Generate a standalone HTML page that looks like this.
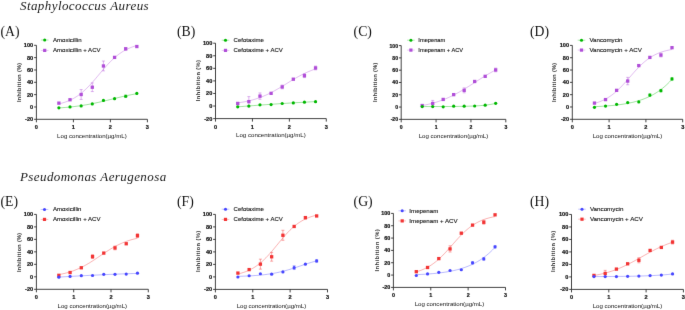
<!DOCTYPE html>
<html><head><meta charset="utf-8"><style>
html,body{margin:0;padding:0;background:#fff;width:685px;height:310px;overflow:hidden}
svg{display:block;}
text{font-family:"Liberation Sans",sans-serif;fill:#111;stroke:none}
.tt{font-family:"Liberation Serif",serif;font-style:italic;font-size:13px;letter-spacing:0.42px;fill:#1a1a1a;stroke:none}
.pl{font-family:"Liberation Serif",serif;font-size:13.7px;fill:#111;stroke:none}
.tk{font-weight:bold;stroke:#111;stroke-width:0.2px}
.yl{font-weight:bold;fill:#333}
.xl{font-size:6.1px}
.lg{stroke:#111;stroke-width:0.12px}
.ax{stroke:#222;stroke-width:0.85;fill:none}
</style></head><body>
<svg width="685" height="310" viewBox="0 0 685 310">
<defs><filter id="sf" x="0" y="0" width="685" height="310" filterUnits="userSpaceOnUse" color-interpolation-filters="sRGB"><feConvolveMatrix order="3" kernelMatrix="0 1 0 1 12 1 0 1 0" divisor="16" edgeMode="duplicate"/></filter></defs>
<g filter="url(#sf)">
<rect width="685" height="310" fill="#fff"/>
<text x="20.0" y="10.2" class="tt">Staphylococcus Aureus</text>
<text x="20.0" y="180.8" class="tt">Pseudomonas Aerugenosa</text>
<text x="0.5" y="35.7" class="pl">(A)</text>
<path d="M36.4 45.3V119.3H147.4" class="ax"/>
<path d="M34.1 119.3H36.4" class="ax"/>
<text x="33.2" y="121.2" class="tk" style="font-size:5.6px" text-anchor="end">-20</text>
<path d="M34.1 106.97H36.4" class="ax"/>
<text x="33.2" y="108.87" class="tk" style="font-size:5.6px" text-anchor="end">0</text>
<path d="M34.1 94.63H36.4" class="ax"/>
<text x="33.2" y="96.53" class="tk" style="font-size:5.6px" text-anchor="end">20</text>
<path d="M34.1 82.3H36.4" class="ax"/>
<text x="33.2" y="84.2" class="tk" style="font-size:5.6px" text-anchor="end">40</text>
<path d="M34.1 69.97H36.4" class="ax"/>
<text x="33.2" y="71.87" class="tk" style="font-size:5.6px" text-anchor="end">60</text>
<path d="M34.1 57.63H36.4" class="ax"/>
<text x="33.2" y="59.53" class="tk" style="font-size:5.6px" text-anchor="end">80</text>
<path d="M34.1 45.3H36.4" class="ax"/>
<text x="33.2" y="47.2" class="tk" style="font-size:5.6px" text-anchor="end">100</text>
<path d="M36.4 119.3V122.3" class="ax"/>
<text x="36.4" y="129.3" class="tk" style="font-size:5.6px" text-anchor="middle">0</text>
<path d="M73.4 119.3V122.3" class="ax"/>
<text x="73.4" y="129.3" class="tk" style="font-size:5.6px" text-anchor="middle">1</text>
<path d="M110.4 119.3V122.3" class="ax"/>
<text x="110.4" y="129.3" class="tk" style="font-size:5.6px" text-anchor="middle">2</text>
<path d="M147.4 119.3V122.3" class="ax"/>
<text x="147.4" y="129.3" class="tk" style="font-size:5.6px" text-anchor="middle">3</text>
<text transform="translate(20.67 82.3) rotate(-90)" class="yl" style="font-size:5.46px;letter-spacing:0.36px" text-anchor="middle">Inhibition (%)</text>
<text x="91.9" y="137.6" class="xl" text-anchor="middle">Log concentration(µg/mL)</text>
<path d="M40.9 40H48.5" stroke="#00b800" stroke-width="0.5" opacity="0.6"/>
<circle cx="44.7" cy="40" r="1.55" fill="#00b800"/>
<text x="53" y="41.75" class="lg" style="font-size:6.05px">Amoxicillin</text>
<path d="M40.9 50.4H48.5" stroke="#b04ed8" stroke-width="0.5" opacity="0.6"/>
<rect x="43.1" y="48.8" width="3.2" height="3.2" fill="#b04ed8"/>
<text x="53" y="52.15" class="lg" style="font-size:6.05px">Amoxicillin + ACV</text>
<polyline points="58.88,103.89 60.2,103.57 61.52,103.23 62.84,102.85 64.16,102.44 65.48,102 66.81,101.52 68.13,101 69.45,100.44 70.77,99.83 72.09,99.17 73.41,98.47 74.73,97.72 76.06,96.91 77.38,96.04 78.7,95.12 80.02,94.14 81.34,93.11 82.66,92.01 83.98,90.86 85.31,89.65 86.63,88.39 87.95,87.07 89.27,85.7 90.59,84.29 91.91,82.83 93.23,81.34 94.56,79.82 95.88,78.27 97.2,76.71 98.52,75.13 99.84,73.56 101.16,71.98 102.48,70.42 103.81,68.87 105.13,67.36 106.45,65.87 107.77,64.41 109.09,63 110.41,61.64 111.74,60.33 113.06,59.07 114.38,57.86 115.7,56.71 117.02,55.62 118.34,54.59 119.66,53.62 120.99,52.7 122.31,51.84 123.63,51.04 124.95,50.29 126.27,49.59 127.59,48.94 128.91,48.33 130.24,47.77 131.56,47.26 132.88,46.78 134.2,46.34 135.52,45.93 136.84,45.56" fill="none" stroke="#b04ed8" stroke-width="0.55" opacity="0.7"/>
<rect x="57.23" y="101.49" width="3.3" height="3.3" fill="#b04ed8"/>
<rect x="68.36" y="98.1" width="3.3" height="3.3" fill="#b04ed8"/>
<path d="M81.15 89.58V99.44M79.65 89.58H82.65M79.65 99.44H82.65" stroke="#b04ed8" stroke-width="0.55" opacity="0.8"/>
<rect x="79.5" y="92.86" width="3.3" height="3.3" fill="#b04ed8"/>
<path d="M92.29 82.92V91.55M90.79 82.92H93.79M90.79 91.55H93.79" stroke="#b04ed8" stroke-width="0.55" opacity="0.8"/>
<rect x="90.64" y="85.58" width="3.3" height="3.3" fill="#b04ed8"/>
<path d="M103.43 61.02V70.89M101.93 61.02H104.93M101.93 70.89H104.93" stroke="#b04ed8" stroke-width="0.55" opacity="0.8"/>
<rect x="101.78" y="64.31" width="3.3" height="3.3" fill="#b04ed8"/>
<rect x="112.92" y="55.74" width="3.3" height="3.3" fill="#b04ed8"/>
<path d="M125.7 47.58V50.05M124.2 47.58H127.2M124.2 50.05H127.2" stroke="#b04ed8" stroke-width="0.55" opacity="0.8"/>
<rect x="124.05" y="47.16" width="3.3" height="3.3" fill="#b04ed8"/>
<rect x="135.19" y="44.88" width="3.3" height="3.3" fill="#b04ed8"/>
<polyline points="58.88,107.96 60.2,107.87 61.52,107.77 62.84,107.67 64.16,107.56 65.48,107.45 66.81,107.33 68.13,107.21 69.45,107.08 70.77,106.94 72.09,106.79 73.41,106.64 74.73,106.48 76.06,106.32 77.38,106.15 78.7,105.97 80.02,105.78 81.34,105.58 82.66,105.38 83.98,105.17 85.31,104.95 86.63,104.72 87.95,104.48 89.27,104.24 90.59,103.99 91.91,103.73 93.23,103.47 94.56,103.19 95.88,102.91 97.2,102.63 98.52,102.34 99.84,102.04 101.16,101.74 102.48,101.43 103.81,101.12 105.13,100.8 106.45,100.48 107.77,100.16 109.09,99.84 110.41,99.51 111.74,99.19 113.06,98.86 114.38,98.54 115.7,98.22 117.02,97.9 118.34,97.58 119.66,97.26 120.99,96.95 122.31,96.64 123.63,96.34 124.95,96.04 126.27,95.75 127.59,95.47 128.91,95.19 130.24,94.92 131.56,94.65 132.88,94.4 134.2,94.15 135.52,93.91 136.84,93.67" fill="none" stroke="#00b800" stroke-width="0.55" opacity="0.7"/>
<circle cx="58.88" cy="107.83" r="1.6" fill="#00b800"/>
<circle cx="70.01" cy="106.97" r="1.6" fill="#00b800"/>
<circle cx="81.15" cy="105.92" r="1.6" fill="#00b800"/>
<circle cx="92.29" cy="103.94" r="1.6" fill="#00b800"/>
<circle cx="103.43" cy="100.43" r="1.6" fill="#00b800"/>
<circle cx="114.57" cy="98.7" r="1.6" fill="#00b800"/>
<path d="M125.7 95V97.47M124.2 95H127.2M124.2 97.47H127.2" stroke="#00b800" stroke-width="0.55" opacity="0.8"/>
<circle cx="125.7" cy="96.24" r="1.6" fill="#00b800"/>
<circle cx="136.84" cy="93.46" r="1.6" fill="#00b800"/>
<text x="177" y="35.7" class="pl">(B)</text>
<path d="M215.5 43.2V118.6H326.29" class="ax"/>
<path d="M213.2 118.6H215.5" class="ax"/>
<text x="212.3" y="120.5" class="tk" style="font-size:5.6px" text-anchor="end">-20</text>
<path d="M213.2 106.03H215.5" class="ax"/>
<text x="212.3" y="107.93" class="tk" style="font-size:5.6px" text-anchor="end">0</text>
<path d="M213.2 93.47H215.5" class="ax"/>
<text x="212.3" y="95.37" class="tk" style="font-size:5.6px" text-anchor="end">20</text>
<path d="M213.2 80.9H215.5" class="ax"/>
<text x="212.3" y="82.8" class="tk" style="font-size:5.6px" text-anchor="end">40</text>
<path d="M213.2 68.33H215.5" class="ax"/>
<text x="212.3" y="70.23" class="tk" style="font-size:5.6px" text-anchor="end">60</text>
<path d="M213.2 55.77H215.5" class="ax"/>
<text x="212.3" y="57.67" class="tk" style="font-size:5.6px" text-anchor="end">80</text>
<path d="M213.2 43.2H215.5" class="ax"/>
<text x="212.3" y="45.1" class="tk" style="font-size:5.6px" text-anchor="end">100</text>
<path d="M215.5 118.6V121.6" class="ax"/>
<text x="215.5" y="128.6" class="tk" style="font-size:5.6px" text-anchor="middle">0</text>
<path d="M252.43 118.6V121.6" class="ax"/>
<text x="252.43" y="128.6" class="tk" style="font-size:5.6px" text-anchor="middle">1</text>
<path d="M289.36 118.6V121.6" class="ax"/>
<text x="289.36" y="128.6" class="tk" style="font-size:5.6px" text-anchor="middle">2</text>
<path d="M326.29 118.6V121.6" class="ax"/>
<text x="326.29" y="128.6" class="tk" style="font-size:5.6px" text-anchor="middle">3</text>
<text transform="translate(199.56 80.4) rotate(-90)" class="yl" style="font-size:5.72px;letter-spacing:0.38px" text-anchor="middle">Inhibition (%)</text>
<text x="270.89" y="136.9" class="xl" text-anchor="middle">Log concentration(µg/mL)</text>
<path d="M221.7 40.2H229.3" stroke="#00b800" stroke-width="0.5" opacity="0.6"/>
<circle cx="225.5" cy="40.2" r="1.55" fill="#00b800"/>
<text x="233.6" y="41.94" class="lg" style="font-size:6.0px">Cefotaxime</text>
<path d="M221.7 50.4H229.3" stroke="#b04ed8" stroke-width="0.5" opacity="0.6"/>
<rect x="223.9" y="48.8" width="3.2" height="3.2" fill="#b04ed8"/>
<text x="233.6" y="52.14" class="lg" style="font-size:6.0px">Cefotaxime + ACV</text>
<polyline points="237.73,102.88 239.05,102.7 240.37,102.49 241.69,102.28 243.01,102.05 244.33,101.81 245.65,101.55 246.97,101.28 248.29,100.98 249.6,100.67 250.92,100.34 252.24,100 253.56,99.63 254.88,99.24 256.2,98.83 257.52,98.4 258.84,97.94 260.16,97.47 261.48,96.97 262.79,96.44 264.11,95.9 265.43,95.33 266.75,94.73 268.07,94.12 269.39,93.48 270.71,92.82 272.03,92.13 273.35,91.43 274.67,90.71 275.98,89.97 277.3,89.22 278.62,88.45 279.94,87.67 281.26,86.88 282.58,86.08 283.9,85.27 285.22,84.46 286.54,83.65 287.85,82.83 289.17,82.02 290.49,81.22 291.81,80.42 293.13,79.63 294.45,78.85 295.77,78.08 297.09,77.33 298.41,76.6 299.73,75.88 301.04,75.18 302.36,74.51 303.68,73.85 305,73.22 306.32,72.6 307.64,72.01 308.96,71.45 310.28,70.91 311.6,70.39 312.92,69.89 314.23,69.42 315.55,68.97" fill="none" stroke="#b04ed8" stroke-width="0.55" opacity="0.7"/>
<path d="M237.73 102.26V104.78M236.23 102.26H239.23M236.23 104.78H239.23" stroke="#b04ed8" stroke-width="0.55" opacity="0.8"/>
<rect x="236.08" y="101.87" width="3.3" height="3.3" fill="#b04ed8"/>
<path d="M248.85 96.61V106.66M247.35 96.61H250.35M247.35 106.66H250.35" stroke="#b04ed8" stroke-width="0.55" opacity="0.8"/>
<rect x="247.2" y="99.98" width="3.3" height="3.3" fill="#b04ed8"/>
<path d="M259.97 92.96V99.25M258.47 92.96H261.47M258.47 99.25H261.47" stroke="#b04ed8" stroke-width="0.55" opacity="0.8"/>
<rect x="258.32" y="94.46" width="3.3" height="3.3" fill="#b04ed8"/>
<rect x="269.44" y="91.69" width="3.3" height="3.3" fill="#b04ed8"/>
<path d="M282.2 85.05V88.82M280.7 85.05H283.7M280.7 88.82H283.7" stroke="#b04ed8" stroke-width="0.55" opacity="0.8"/>
<rect x="280.55" y="85.28" width="3.3" height="3.3" fill="#b04ed8"/>
<rect x="291.67" y="77.55" width="3.3" height="3.3" fill="#b04ed8"/>
<path d="M304.44 73.8V77.57M302.94 73.8H305.94M302.94 77.57H305.94" stroke="#b04ed8" stroke-width="0.55" opacity="0.8"/>
<rect x="302.79" y="74.03" width="3.3" height="3.3" fill="#b04ed8"/>
<path d="M315.55 66.07V69.84M314.05 66.07H317.05M314.05 69.84H317.05" stroke="#b04ed8" stroke-width="0.55" opacity="0.8"/>
<rect x="313.9" y="66.31" width="3.3" height="3.3" fill="#b04ed8"/>
<polyline points="237.73,106.83 239.05,106.73 240.37,106.62 241.69,106.52 243.01,106.41 244.33,106.31 245.65,106.21 246.97,106.1 248.29,106 249.6,105.9 250.92,105.8 252.24,105.7 253.56,105.6 254.88,105.49 256.2,105.4 257.52,105.3 258.84,105.2 260.16,105.1 261.48,105 262.79,104.9 264.11,104.81 265.43,104.71 266.75,104.62 268.07,104.52 269.39,104.43 270.71,104.33 272.03,104.24 273.35,104.15 274.67,104.06 275.98,103.97 277.3,103.88 278.62,103.79 279.94,103.7 281.26,103.61 282.58,103.53 283.9,103.44 285.22,103.36 286.54,103.27 287.85,103.19 289.17,103.1 290.49,103.02 291.81,102.94 293.13,102.86 294.45,102.78 295.77,102.7 297.09,102.62 298.41,102.55 299.73,102.47 301.04,102.39 302.36,102.32 303.68,102.25 305,102.17 306.32,102.1 307.64,102.03 308.96,101.96 310.28,101.89 311.6,101.82 312.92,101.75 314.23,101.68 315.55,101.62" fill="none" stroke="#00b800" stroke-width="0.55" opacity="0.7"/>
<circle cx="237.73" cy="106.85" r="1.6" fill="#00b800"/>
<circle cx="248.85" cy="106.03" r="1.6" fill="#00b800"/>
<circle cx="259.97" cy="104.84" r="1.6" fill="#00b800"/>
<circle cx="271.09" cy="104.53" r="1.6" fill="#00b800"/>
<circle cx="282.2" cy="103.52" r="1.6" fill="#00b800"/>
<circle cx="293.32" cy="102.89" r="1.6" fill="#00b800"/>
<circle cx="304.44" cy="102.14" r="1.6" fill="#00b800"/>
<circle cx="315.55" cy="101.63" r="1.6" fill="#00b800"/>
<text x="353.6" y="35.7" class="pl">(C)</text>
<path d="M401.2 45.6V119.35H505.81" class="ax"/>
<path d="M398.9 119.35H401.2" class="ax"/>
<text x="398" y="121.25" class="tk" style="font-size:5.1px" text-anchor="end">-20</text>
<path d="M398.9 107.06H401.2" class="ax"/>
<text x="398" y="108.96" class="tk" style="font-size:5.1px" text-anchor="end">0</text>
<path d="M398.9 94.77H401.2" class="ax"/>
<text x="398" y="96.67" class="tk" style="font-size:5.1px" text-anchor="end">20</text>
<path d="M398.9 82.47H401.2" class="ax"/>
<text x="398" y="84.38" class="tk" style="font-size:5.1px" text-anchor="end">40</text>
<path d="M398.9 70.18H401.2" class="ax"/>
<text x="398" y="72.08" class="tk" style="font-size:5.1px" text-anchor="end">60</text>
<path d="M398.9 57.89H401.2" class="ax"/>
<text x="398" y="59.79" class="tk" style="font-size:5.1px" text-anchor="end">80</text>
<path d="M398.9 45.6H401.2" class="ax"/>
<text x="398" y="47.5" class="tk" style="font-size:5.1px" text-anchor="end">100</text>
<path d="M401.2 119.35V122.35" class="ax"/>
<text x="401.2" y="129.35" class="tk" style="font-size:5.1px" text-anchor="middle">0</text>
<path d="M436.07 119.35V122.35" class="ax"/>
<text x="436.07" y="129.35" class="tk" style="font-size:5.1px" text-anchor="middle">1</text>
<path d="M470.94 119.35V122.35" class="ax"/>
<text x="470.94" y="129.35" class="tk" style="font-size:5.1px" text-anchor="middle">2</text>
<path d="M505.81 119.35V122.35" class="ax"/>
<text x="505.81" y="129.35" class="tk" style="font-size:5.1px" text-anchor="middle">3</text>
<text transform="translate(377.37 82.1) rotate(-90)" class="yl" style="font-size:5.46px;letter-spacing:0.36px" text-anchor="middle">Inhibition (%)</text>
<text x="453.5" y="137.65" class="xl" text-anchor="middle">Log concentration(µg/mL)</text>
<path d="M407.1 40.2H414.7" stroke="#00b800" stroke-width="0.5" opacity="0.6"/>
<circle cx="410.9" cy="40.2" r="1.55" fill="#00b800"/>
<text x="418.35" y="41.85" class="lg" style="font-size:5.7px">Imepenam</text>
<path d="M407.1 50.1H414.7" stroke="#b04ed8" stroke-width="0.5" opacity="0.6"/>
<rect x="409.3" y="48.5" width="3.2" height="3.2" fill="#b04ed8"/>
<text x="418.35" y="51.75" class="lg" style="font-size:5.7px">Imepenam + ACV</text>
<polyline points="422.19,105.57 423.44,105.34 424.68,105.09 425.93,104.83 427.18,104.56 428.42,104.28 429.67,103.98 430.91,103.67 432.16,103.35 433.4,103 434.65,102.65 435.89,102.28 437.14,101.89 438.38,101.48 439.63,101.06 440.87,100.62 442.12,100.16 443.37,99.69 444.61,99.2 445.86,98.69 447.1,98.16 448.35,97.61 449.59,97.04 450.84,96.46 452.08,95.86 453.33,95.24 454.57,94.6 455.82,93.95 457.06,93.28 458.31,92.59 459.56,91.89 460.8,91.18 462.05,90.45 463.29,89.71 464.54,88.95 465.78,88.19 467.03,87.42 468.27,86.64 469.52,85.85 470.76,85.05 472.01,84.26 473.26,83.45 474.5,82.65 475.75,81.85 476.99,81.05 478.24,80.25 479.48,79.45 480.73,78.66 481.97,77.88 483.22,77.1 484.46,76.33 485.71,75.58 486.95,74.83 488.2,74.1 489.45,73.38 490.69,72.67 491.94,71.98 493.18,71.31 494.43,70.65 495.67,70" fill="none" stroke="#b04ed8" stroke-width="0.55" opacity="0.7"/>
<rect x="420.54" y="103.87" width="3.3" height="3.3" fill="#b04ed8"/>
<path d="M432.69 100.42V106.57M431.19 100.42H434.19M431.19 106.57H434.19" stroke="#b04ed8" stroke-width="0.55" opacity="0.8"/>
<rect x="431.04" y="101.84" width="3.3" height="3.3" fill="#b04ed8"/>
<rect x="441.54" y="97.79" width="3.3" height="3.3" fill="#b04ed8"/>
<rect x="452.03" y="92.99" width="3.3" height="3.3" fill="#b04ed8"/>
<path d="M464.18 87.88V92.8M462.68 87.88H465.68M462.68 92.8H465.68" stroke="#b04ed8" stroke-width="0.55" opacity="0.8"/>
<rect x="462.53" y="88.69" width="3.3" height="3.3" fill="#b04ed8"/>
<rect x="473.03" y="79.84" width="3.3" height="3.3" fill="#b04ed8"/>
<rect x="483.53" y="74.68" width="3.3" height="3.3" fill="#b04ed8"/>
<path d="M495.67 68.09V71.78M494.17 68.09H497.17M494.17 71.78H497.17" stroke="#b04ed8" stroke-width="0.55" opacity="0.8"/>
<rect x="494.02" y="68.29" width="3.3" height="3.3" fill="#b04ed8"/>
<polyline points="422.19,106.57 423.44,106.57 424.68,106.57 425.93,106.57 427.18,106.56 428.42,106.56 429.67,106.56 430.91,106.56 432.16,106.56 433.4,106.56 434.65,106.55 435.89,106.55 437.14,106.55 438.38,106.54 439.63,106.54 440.87,106.54 442.12,106.53 443.37,106.53 444.61,106.52 445.86,106.52 447.1,106.51 448.35,106.5 449.59,106.5 450.84,106.49 452.08,106.48 453.33,106.47 454.57,106.45 455.82,106.44 457.06,106.43 458.31,106.41 459.56,106.39 460.8,106.37 462.05,106.35 463.29,106.33 464.54,106.3 465.78,106.28 467.03,106.24 468.27,106.21 469.52,106.17 470.76,106.13 472.01,106.08 473.26,106.03 474.5,105.97 475.75,105.91 476.99,105.84 478.24,105.76 479.48,105.68 480.73,105.58 481.97,105.48 483.22,105.36 484.46,105.24 485.71,105.1 486.95,104.94 488.2,104.78 489.45,104.59 490.69,104.38 491.94,104.16 493.18,103.91 494.43,103.63 495.67,103.33" fill="none" stroke="#00b800" stroke-width="0.55" opacity="0.7"/>
<circle cx="422.19" cy="106.57" r="1.6" fill="#00b800"/>
<circle cx="432.69" cy="106.57" r="1.6" fill="#00b800"/>
<circle cx="443.19" cy="106.81" r="1.6" fill="#00b800"/>
<circle cx="453.68" cy="106.2" r="1.6" fill="#00b800"/>
<circle cx="464.18" cy="106.2" r="1.6" fill="#00b800"/>
<circle cx="474.68" cy="106.01" r="1.6" fill="#00b800"/>
<circle cx="485.18" cy="105.21" r="1.6" fill="#00b800"/>
<circle cx="495.67" cy="103.31" r="1.6" fill="#00b800"/>
<text x="530" y="35.7" class="pl">(D)</text>
<path d="M572.3 45.4V119.3H682.7" class="ax"/>
<path d="M570 119.3H572.3" class="ax"/>
<text x="569.1" y="121.2" class="tk" style="font-size:5.6px" text-anchor="end">-20</text>
<path d="M570 106.98H572.3" class="ax"/>
<text x="569.1" y="108.88" class="tk" style="font-size:5.6px" text-anchor="end">0</text>
<path d="M570 94.67H572.3" class="ax"/>
<text x="569.1" y="96.57" class="tk" style="font-size:5.6px" text-anchor="end">20</text>
<path d="M570 82.35H572.3" class="ax"/>
<text x="569.1" y="84.25" class="tk" style="font-size:5.6px" text-anchor="end">40</text>
<path d="M570 70.03H572.3" class="ax"/>
<text x="569.1" y="71.93" class="tk" style="font-size:5.6px" text-anchor="end">60</text>
<path d="M570 57.72H572.3" class="ax"/>
<text x="569.1" y="59.62" class="tk" style="font-size:5.6px" text-anchor="end">80</text>
<path d="M570 45.4H572.3" class="ax"/>
<text x="569.1" y="47.3" class="tk" style="font-size:5.6px" text-anchor="end">100</text>
<path d="M572.3 119.3V122.3" class="ax"/>
<text x="572.3" y="129.3" class="tk" style="font-size:5.6px" text-anchor="middle">0</text>
<path d="M609.1 119.3V122.3" class="ax"/>
<text x="609.1" y="129.3" class="tk" style="font-size:5.6px" text-anchor="middle">1</text>
<path d="M645.9 119.3V122.3" class="ax"/>
<text x="645.9" y="129.3" class="tk" style="font-size:5.6px" text-anchor="middle">2</text>
<path d="M682.7 119.3V122.3" class="ax"/>
<text x="682.7" y="129.3" class="tk" style="font-size:5.6px" text-anchor="middle">3</text>
<text transform="translate(555.77 82.3) rotate(-90)" class="yl" style="font-size:5.46px;letter-spacing:0.36px" text-anchor="middle">Inhibition (%)</text>
<text x="627.5" y="137.6" class="xl" text-anchor="middle">Log concentration(µg/mL)</text>
<path d="M577.7 40.2H585.3" stroke="#00b800" stroke-width="0.5" opacity="0.6"/>
<circle cx="581.5" cy="40.2" r="1.55" fill="#00b800"/>
<text x="589.4" y="41.99" class="lg" style="font-size:6.18px">Vancomycin</text>
<path d="M577.7 50.1H585.3" stroke="#b04ed8" stroke-width="0.5" opacity="0.6"/>
<rect x="579.9" y="48.5" width="3.2" height="3.2" fill="#b04ed8"/>
<text x="589.4" y="51.89" class="lg" style="font-size:6.18px">Vancomycin + ACV</text>
<polyline points="594.46,103.37 595.77,103 597.08,102.6 598.4,102.17 599.71,101.69 601.03,101.18 602.34,100.62 603.66,100.01 604.97,99.36 606.28,98.65 607.6,97.89 608.91,97.08 610.23,96.21 611.54,95.28 612.86,94.29 614.17,93.25 615.49,92.14 616.8,90.98 618.11,89.76 619.43,88.49 620.74,87.17 622.06,85.81 623.37,84.4 624.69,82.96 626,81.49 627.31,80 628.63,78.49 629.94,76.98 631.26,75.47 632.57,73.97 633.89,72.48 635.2,71.02 636.51,69.58 637.83,68.19 639.14,66.83 640.46,65.52 641.77,64.26 643.09,63.06 644.4,61.91 645.71,60.82 647.03,59.79 648.34,58.82 649.66,57.9 650.97,57.04 652.29,56.24 653.6,55.5 654.91,54.8 656.23,54.16 657.54,53.57 658.86,53.02 660.17,52.51 661.49,52.05 662.8,51.62 664.12,51.23 665.43,50.87 666.74,50.54 668.06,50.24 669.37,49.96 670.69,49.71 672,49.49" fill="none" stroke="#b04ed8" stroke-width="0.55" opacity="0.7"/>
<rect x="592.81" y="101.45" width="3.3" height="3.3" fill="#b04ed8"/>
<rect x="603.88" y="97.94" width="3.3" height="3.3" fill="#b04ed8"/>
<rect x="614.96" y="88.71" width="3.3" height="3.3" fill="#b04ed8"/>
<path d="M627.69 77.36V84.75M626.19 77.36H629.19M626.19 84.75H629.19" stroke="#b04ed8" stroke-width="0.55" opacity="0.8"/>
<rect x="626.04" y="79.41" width="3.3" height="3.3" fill="#b04ed8"/>
<rect x="637.12" y="63.95" width="3.3" height="3.3" fill="#b04ed8"/>
<rect x="648.2" y="55.76" width="3.3" height="3.3" fill="#b04ed8"/>
<path d="M660.92 53.22V56.92M659.42 53.22H662.42M659.42 56.92H662.42" stroke="#b04ed8" stroke-width="0.55" opacity="0.8"/>
<rect x="659.27" y="53.42" width="3.3" height="3.3" fill="#b04ed8"/>
<rect x="670.35" y="46.03" width="3.3" height="3.3" fill="#b04ed8"/>
<polyline points="594.46,106.65 595.77,106.59 597.08,106.53 598.4,106.47 599.71,106.4 601.03,106.33 602.34,106.25 603.66,106.17 604.97,106.08 606.28,105.99 607.6,105.89 608.91,105.78 610.23,105.67 611.54,105.55 612.86,105.43 614.17,105.3 615.49,105.16 616.8,105.01 618.11,104.85 619.43,104.68 620.74,104.5 622.06,104.31 623.37,104.11 624.69,103.9 626,103.68 627.31,103.44 628.63,103.19 629.94,102.92 631.26,102.63 632.57,102.33 633.89,102.02 635.2,101.68 636.51,101.32 637.83,100.95 639.14,100.55 640.46,100.13 641.77,99.68 643.09,99.21 644.4,98.71 645.71,98.18 647.03,97.63 648.34,97.04 649.66,96.42 650.97,95.76 652.29,95.08 653.6,94.35 654.91,93.58 656.23,92.78 657.54,91.93 658.86,91.04 660.17,90.1 661.49,89.12 662.8,88.08 664.12,87 665.43,85.86 666.74,84.67 668.06,83.42 669.37,82.12 670.69,80.76 672,79.33" fill="none" stroke="#00b800" stroke-width="0.55" opacity="0.7"/>
<circle cx="594.46" cy="107.29" r="1.6" fill="#00b800"/>
<circle cx="605.53" cy="106.12" r="1.6" fill="#00b800"/>
<circle cx="616.61" cy="104.34" r="1.6" fill="#00b800"/>
<circle cx="627.69" cy="102.61" r="1.6" fill="#00b800"/>
<circle cx="638.77" cy="101.93" r="1.6" fill="#00b800"/>
<path d="M649.85 93.8V96.27M648.35 93.8H651.35M648.35 96.27H651.35" stroke="#00b800" stroke-width="0.55" opacity="0.8"/>
<circle cx="649.85" cy="95.04" r="1.6" fill="#00b800"/>
<path d="M660.92 89.43V91.9M659.42 89.43H662.42M659.42 91.9H662.42" stroke="#00b800" stroke-width="0.55" opacity="0.8"/>
<circle cx="660.92" cy="90.66" r="1.6" fill="#00b800"/>
<path d="M672 77.73V80.19M670.5 77.73H673.5M670.5 80.19H673.5" stroke="#00b800" stroke-width="0.55" opacity="0.8"/>
<circle cx="672" cy="78.96" r="1.6" fill="#00b800"/>
<text x="0.5" y="205.8" class="pl">(E)</text>
<path d="M36.4 214.4V289.3H148.3" class="ax"/>
<path d="M34.1 289.3H36.4" class="ax"/>
<text x="33.2" y="291.2" class="tk" style="font-size:5.6px" text-anchor="end">-20</text>
<path d="M34.1 276.82H36.4" class="ax"/>
<text x="33.2" y="278.72" class="tk" style="font-size:5.6px" text-anchor="end">0</text>
<path d="M34.1 264.33H36.4" class="ax"/>
<text x="33.2" y="266.23" class="tk" style="font-size:5.6px" text-anchor="end">20</text>
<path d="M34.1 251.85H36.4" class="ax"/>
<text x="33.2" y="253.75" class="tk" style="font-size:5.6px" text-anchor="end">40</text>
<path d="M34.1 239.37H36.4" class="ax"/>
<text x="33.2" y="241.27" class="tk" style="font-size:5.6px" text-anchor="end">60</text>
<path d="M34.1 226.88H36.4" class="ax"/>
<text x="33.2" y="228.78" class="tk" style="font-size:5.6px" text-anchor="end">80</text>
<path d="M34.1 214.4H36.4" class="ax"/>
<text x="33.2" y="216.3" class="tk" style="font-size:5.6px" text-anchor="end">100</text>
<path d="M36.4 289.3V292.3" class="ax"/>
<text x="36.4" y="299.3" class="tk" style="font-size:5.6px" text-anchor="middle">0</text>
<path d="M73.7 289.3V292.3" class="ax"/>
<text x="73.7" y="299.3" class="tk" style="font-size:5.6px" text-anchor="middle">1</text>
<path d="M111 289.3V292.3" class="ax"/>
<text x="111" y="299.3" class="tk" style="font-size:5.6px" text-anchor="middle">2</text>
<path d="M148.3 289.3V292.3" class="ax"/>
<text x="148.3" y="299.3" class="tk" style="font-size:5.6px" text-anchor="middle">3</text>
<text transform="translate(20.77 252.3) rotate(-90)" class="yl" style="font-size:5.46px;letter-spacing:0.36px" text-anchor="middle">Inhibition (%)</text>
<text x="92.35" y="307.6" class="xl" text-anchor="middle">Log concentration(µg/mL)</text>
<path d="M40.7 209.5H48.3" stroke="#4646ff" stroke-width="0.5" opacity="0.6"/>
<circle cx="44.5" cy="209.5" r="1.55" fill="#4646ff"/>
<text x="52.9" y="211.26" class="lg" style="font-size:6.06px">Amoxicillin</text>
<path d="M40.7 219.4H48.3" stroke="#f23434" stroke-width="0.5" opacity="0.6"/>
<rect x="42.9" y="217.8" width="3.2" height="3.2" fill="#f23434"/>
<text x="52.9" y="221.16" class="lg" style="font-size:6.06px">Amoxicillin + ACV</text>
<polyline points="58.86,274.59 60.19,274.35 61.52,274.08 62.85,273.8 64.19,273.5 65.52,273.17 66.85,272.83 68.18,272.46 69.51,272.06 70.85,271.64 72.18,271.2 73.51,270.72 74.84,270.22 76.18,269.7 77.51,269.14 78.84,268.55 80.17,267.94 81.5,267.29 82.84,266.62 84.17,265.92 85.5,265.19 86.83,264.43 88.16,263.65 89.5,262.85 90.83,262.03 92.16,261.18 93.49,260.32 94.83,259.45 96.16,258.56 97.49,257.66 98.82,256.76 100.15,255.86 101.49,254.96 102.82,254.06 104.15,253.17 105.48,252.29 106.82,251.42 108.15,250.57 109.48,249.73 110.81,248.92 112.14,248.13 113.48,247.36 114.81,246.62 116.14,245.91 117.47,245.22 118.81,244.56 120.14,243.93 121.47,243.33 122.8,242.76 124.13,242.22 125.47,241.7 126.8,241.22 128.13,240.76 129.46,240.33 130.79,239.92 132.13,239.54 133.46,239.18 134.79,238.85 136.12,238.53 137.46,238.24" fill="none" stroke="#f23434" stroke-width="0.55" opacity="0.7"/>
<rect x="57.21" y="273.67" width="3.3" height="3.3" fill="#f23434"/>
<rect x="68.44" y="270.86" width="3.3" height="3.3" fill="#f23434"/>
<rect x="79.66" y="266.12" width="3.3" height="3.3" fill="#f23434"/>
<path d="M92.54 254.72V258.47M91.04 254.72H94.04M91.04 258.47H94.04" stroke="#f23434" stroke-width="0.55" opacity="0.8"/>
<rect x="90.89" y="254.94" width="3.3" height="3.3" fill="#f23434"/>
<rect x="102.12" y="251.45" width="3.3" height="3.3" fill="#f23434"/>
<path d="M115 246.05V249.79M113.5 246.05H116.5M113.5 249.79H116.5" stroke="#f23434" stroke-width="0.55" opacity="0.8"/>
<rect x="113.35" y="246.27" width="3.3" height="3.3" fill="#f23434"/>
<rect x="124.58" y="242.09" width="3.3" height="3.3" fill="#f23434"/>
<path d="M137.46 233.75V237.49M135.96 233.75H138.96M135.96 237.49H138.96" stroke="#f23434" stroke-width="0.55" opacity="0.8"/>
<rect x="135.81" y="233.97" width="3.3" height="3.3" fill="#f23434"/>
<polyline points="58.86,277.1 60.19,277.02 61.52,276.94 62.85,276.86 64.19,276.78 65.52,276.7 66.85,276.63 68.18,276.55 69.51,276.47 70.85,276.4 72.18,276.32 73.51,276.24 74.84,276.17 76.18,276.1 77.51,276.02 78.84,275.95 80.17,275.88 81.5,275.81 82.84,275.74 84.17,275.67 85.5,275.6 86.83,275.53 88.16,275.46 89.5,275.39 90.83,275.32 92.16,275.26 93.49,275.19 94.83,275.13 96.16,275.06 97.49,275 98.82,274.93 100.15,274.87 101.49,274.81 102.82,274.75 104.15,274.69 105.48,274.63 106.82,274.57 108.15,274.51 109.48,274.45 110.81,274.39 112.14,274.34 113.48,274.28 114.81,274.23 116.14,274.17 117.47,274.12 118.81,274.06 120.14,274.01 121.47,273.96 122.8,273.91 124.13,273.86 125.47,273.81 126.8,273.76 128.13,273.71 129.46,273.66 130.79,273.61 132.13,273.56 133.46,273.52 134.79,273.47 136.12,273.43 137.46,273.38" fill="none" stroke="#4646ff" stroke-width="0.55" opacity="0.7"/>
<circle cx="58.86" cy="277.13" r="1.6" fill="#4646ff"/>
<circle cx="70.09" cy="276.44" r="1.6" fill="#4646ff"/>
<circle cx="81.31" cy="275.69" r="1.6" fill="#4646ff"/>
<circle cx="92.54" cy="275.51" r="1.6" fill="#4646ff"/>
<circle cx="103.77" cy="274.32" r="1.6" fill="#4646ff"/>
<circle cx="115" cy="274.32" r="1.6" fill="#4646ff"/>
<circle cx="126.23" cy="274.07" r="1.6" fill="#4646ff"/>
<circle cx="137.46" cy="273.2" r="1.6" fill="#4646ff"/>
<text x="177" y="205.8" class="pl">(F)</text>
<path d="M215.4 214.4V289.4H327.51" class="ax"/>
<path d="M213.1 289.4H215.4" class="ax"/>
<text x="212.2" y="291.3" class="tk" style="font-size:5.6px" text-anchor="end">-20</text>
<path d="M213.1 276.9H215.4" class="ax"/>
<text x="212.2" y="278.8" class="tk" style="font-size:5.6px" text-anchor="end">0</text>
<path d="M213.1 264.4H215.4" class="ax"/>
<text x="212.2" y="266.3" class="tk" style="font-size:5.6px" text-anchor="end">20</text>
<path d="M213.1 251.9H215.4" class="ax"/>
<text x="212.2" y="253.8" class="tk" style="font-size:5.6px" text-anchor="end">40</text>
<path d="M213.1 239.4H215.4" class="ax"/>
<text x="212.2" y="241.3" class="tk" style="font-size:5.6px" text-anchor="end">60</text>
<path d="M213.1 226.9H215.4" class="ax"/>
<text x="212.2" y="228.8" class="tk" style="font-size:5.6px" text-anchor="end">80</text>
<path d="M213.1 214.4H215.4" class="ax"/>
<text x="212.2" y="216.3" class="tk" style="font-size:5.6px" text-anchor="end">100</text>
<path d="M215.4 289.4V292.4" class="ax"/>
<text x="215.4" y="299.4" class="tk" style="font-size:5.6px" text-anchor="middle">0</text>
<path d="M252.77 289.4V292.4" class="ax"/>
<text x="252.77" y="299.4" class="tk" style="font-size:5.6px" text-anchor="middle">1</text>
<path d="M290.14 289.4V292.4" class="ax"/>
<text x="290.14" y="299.4" class="tk" style="font-size:5.6px" text-anchor="middle">2</text>
<path d="M327.51 289.4V292.4" class="ax"/>
<text x="327.51" y="299.4" class="tk" style="font-size:5.6px" text-anchor="middle">3</text>
<text transform="translate(199.56 251.3) rotate(-90)" class="yl" style="font-size:5.72px;letter-spacing:0.38px" text-anchor="middle">Inhibition (%)</text>
<text x="271.45" y="307.7" class="xl" text-anchor="middle">Log concentration(µg/mL)</text>
<path d="M221.7 209.2H229.3" stroke="#4646ff" stroke-width="0.5" opacity="0.6"/>
<circle cx="225.5" cy="209.2" r="1.55" fill="#4646ff"/>
<text x="233.6" y="210.94" class="lg" style="font-size:6.0px">Cefotaxime</text>
<path d="M221.7 219.4H229.3" stroke="#f23434" stroke-width="0.5" opacity="0.6"/>
<rect x="223.9" y="217.8" width="3.2" height="3.2" fill="#f23434"/>
<text x="233.6" y="221.14" class="lg" style="font-size:6.0px">Cefotaxime + ACV</text>
<polyline points="237.9,273.97 239.23,273.65 240.57,273.31 241.9,272.93 243.24,272.51 244.57,272.06 245.91,271.57 247.24,271.04 248.58,270.46 249.91,269.83 251.25,269.15 252.58,268.42 253.92,267.64 255.25,266.79 256.58,265.89 257.92,264.92 259.25,263.89 260.59,262.8 261.92,261.65 263.26,260.43 264.59,259.15 265.93,257.82 267.26,256.42 268.6,254.98 269.93,253.49 271.27,251.96 272.6,250.39 273.94,248.79 275.27,247.17 276.6,245.54 277.94,243.91 279.27,242.27 280.61,240.65 281.94,239.05 283.28,237.47 284.61,235.93 285.95,234.43 287.28,232.97 288.62,231.57 289.95,230.22 291.29,228.92 292.62,227.69 293.96,226.52 295.29,225.42 296.63,224.37 297.96,223.39 299.29,222.47 300.63,221.61 301.96,220.81 303.3,220.07 304.63,219.38 305.97,218.74 307.3,218.15 308.64,217.6 309.97,217.1 311.31,216.64 312.64,216.22 313.98,215.83 315.31,215.48 316.65,215.15" fill="none" stroke="#f23434" stroke-width="0.55" opacity="0.7"/>
<rect x="236.25" y="271.44" width="3.3" height="3.3" fill="#f23434"/>
<rect x="247.5" y="267.94" width="3.3" height="3.3" fill="#f23434"/>
<path d="M260.4 259.15V269.15M258.9 259.15H261.9M258.9 269.15H261.9" stroke="#f23434" stroke-width="0.55" opacity="0.8"/>
<rect x="258.75" y="262.5" width="3.3" height="3.3" fill="#f23434"/>
<path d="M271.65 252.4V261.15M270.15 252.4H273.15M270.15 261.15H273.15" stroke="#f23434" stroke-width="0.55" opacity="0.8"/>
<rect x="270" y="255.12" width="3.3" height="3.3" fill="#f23434"/>
<path d="M282.9 230.28V240.28M281.4 230.28H284.4M281.4 240.28H284.4" stroke="#f23434" stroke-width="0.55" opacity="0.8"/>
<rect x="281.25" y="233.62" width="3.3" height="3.3" fill="#f23434"/>
<rect x="292.5" y="224.81" width="3.3" height="3.3" fill="#f23434"/>
<path d="M305.4 216.4V218.9M303.9 216.4H306.9M303.9 218.9H306.9" stroke="#f23434" stroke-width="0.55" opacity="0.8"/>
<rect x="303.75" y="216" width="3.3" height="3.3" fill="#f23434"/>
<rect x="315" y="214.31" width="3.3" height="3.3" fill="#f23434"/>
<polyline points="237.9,276.34 239.23,276.3 240.57,276.26 241.9,276.22 243.24,276.17 244.57,276.12 245.91,276.07 247.24,276.01 248.58,275.94 249.91,275.87 251.25,275.8 252.58,275.72 253.92,275.63 255.25,275.53 256.58,275.43 257.92,275.33 259.25,275.21 260.59,275.08 261.92,274.95 263.26,274.81 264.59,274.65 265.93,274.49 267.26,274.31 268.6,274.13 269.93,273.93 271.27,273.72 272.6,273.49 273.94,273.26 275.27,273.01 276.6,272.74 277.94,272.46 279.27,272.17 280.61,271.86 281.94,271.54 283.28,271.21 284.61,270.86 285.95,270.49 287.28,270.12 288.62,269.73 289.95,269.33 291.29,268.92 292.62,268.5 293.96,268.08 295.29,267.64 296.63,267.2 297.96,266.75 299.29,266.31 300.63,265.86 301.96,265.41 303.3,264.96 304.63,264.51 305.97,264.07 307.3,263.64 308.64,263.21 309.97,262.79 311.31,262.38 312.64,261.98 313.98,261.6 315.31,261.22 316.65,260.86" fill="none" stroke="#4646ff" stroke-width="0.55" opacity="0.7"/>
<circle cx="237.9" cy="277.02" r="1.6" fill="#4646ff"/>
<circle cx="249.15" cy="275.77" r="1.6" fill="#4646ff"/>
<circle cx="260.4" cy="273.77" r="1.6" fill="#4646ff"/>
<circle cx="271.65" cy="274.21" r="1.6" fill="#4646ff"/>
<circle cx="282.9" cy="271.9" r="1.6" fill="#4646ff"/>
<path d="M294.15 265.77V269.52M292.65 265.77H295.65M292.65 269.52H295.65" stroke="#4646ff" stroke-width="0.55" opacity="0.8"/>
<circle cx="294.15" cy="267.65" r="1.6" fill="#4646ff"/>
<circle cx="305.4" cy="264.15" r="1.6" fill="#4646ff"/>
<path d="M316.65 259.71V262.21M315.15 259.71H318.15M315.15 262.21H318.15" stroke="#4646ff" stroke-width="0.55" opacity="0.8"/>
<circle cx="316.65" cy="260.96" r="1.6" fill="#4646ff"/>
<text x="353.6" y="205.8" class="pl">(G)</text>
<path d="M393.4 213.4V287.4H505.51" class="ax"/>
<path d="M391.1 287.4H393.4" class="ax"/>
<text x="390.2" y="289.3" class="tk" style="font-size:5.4px" text-anchor="end">-20</text>
<path d="M391.1 275.07H393.4" class="ax"/>
<text x="390.2" y="276.97" class="tk" style="font-size:5.4px" text-anchor="end">0</text>
<path d="M391.1 262.73H393.4" class="ax"/>
<text x="390.2" y="264.63" class="tk" style="font-size:5.4px" text-anchor="end">20</text>
<path d="M391.1 250.4H393.4" class="ax"/>
<text x="390.2" y="252.3" class="tk" style="font-size:5.4px" text-anchor="end">40</text>
<path d="M391.1 238.07H393.4" class="ax"/>
<text x="390.2" y="239.97" class="tk" style="font-size:5.4px" text-anchor="end">60</text>
<path d="M391.1 225.73H393.4" class="ax"/>
<text x="390.2" y="227.63" class="tk" style="font-size:5.4px" text-anchor="end">80</text>
<path d="M391.1 213.4H393.4" class="ax"/>
<text x="390.2" y="215.3" class="tk" style="font-size:5.4px" text-anchor="end">100</text>
<path d="M393.4 287.4V290.4" class="ax"/>
<text x="393.4" y="297.4" class="tk" style="font-size:5.4px" text-anchor="middle">0</text>
<path d="M430.77 287.4V290.4" class="ax"/>
<text x="430.77" y="297.4" class="tk" style="font-size:5.4px" text-anchor="middle">1</text>
<path d="M468.14 287.4V290.4" class="ax"/>
<text x="468.14" y="297.4" class="tk" style="font-size:5.4px" text-anchor="middle">2</text>
<path d="M505.51 287.4V290.4" class="ax"/>
<text x="505.51" y="297.4" class="tk" style="font-size:5.4px" text-anchor="middle">3</text>
<text transform="translate(378.81 250.2) rotate(-90)" class="yl" style="font-size:5.90px;letter-spacing:0.39px" text-anchor="middle">Inhibition (%)</text>
<text x="449.45" y="305.7" class="xl" text-anchor="middle">Log concentration(µg/mL)</text>
<path d="M398.4 210.8H406" stroke="#4646ff" stroke-width="0.5" opacity="0.6"/>
<circle cx="402.2" cy="210.8" r="1.55" fill="#4646ff"/>
<text x="409.35" y="212.58" class="lg" style="font-size:6.13px">Imepenam</text>
<path d="M398.4 220.9H406" stroke="#f23434" stroke-width="0.5" opacity="0.6"/>
<rect x="400.6" y="219.3" width="3.2" height="3.2" fill="#f23434"/>
<text x="409.35" y="222.68" class="lg" style="font-size:6.13px">Imepenam + ACV</text>
<polyline points="416.3,271.81 417.63,271.42 418.97,270.99 420.3,270.53 421.64,270.02 422.97,269.48 424.31,268.89 425.64,268.26 426.98,267.57 428.31,266.84 429.65,266.05 430.98,265.21 432.32,264.31 433.65,263.36 434.98,262.34 436.32,261.27 437.65,260.15 438.99,258.96 440.32,257.73 441.66,256.44 442.99,255.1 444.33,253.72 445.66,252.3 447,250.85 448.33,249.37 449.67,247.87 451,246.35 452.34,244.83 453.67,243.31 455,241.8 456.34,240.3 457.67,238.83 459.01,237.38 460.34,235.97 461.68,234.6 463.01,233.27 464.35,231.99 465.68,230.76 467.02,229.59 468.35,228.47 469.69,227.41 471.02,226.41 472.36,225.47 473.69,224.58 475.03,223.75 476.36,222.97 477.69,222.25 479.03,221.57 480.36,220.95 481.7,220.37 483.03,219.83 484.37,219.34 485.7,218.88 487.04,218.46 488.37,218.08 489.71,217.72 491.04,217.4 492.38,217.1 493.71,216.83 495.05,216.58" fill="none" stroke="#f23434" stroke-width="0.55" opacity="0.7"/>
<rect x="414.65" y="270.03" width="3.3" height="3.3" fill="#f23434"/>
<rect x="425.9" y="265.83" width="3.3" height="3.3" fill="#f23434"/>
<rect x="437.15" y="256.95" width="3.3" height="3.3" fill="#f23434"/>
<path d="M450.05 245.84V252M448.55 245.84H451.55M448.55 252H451.55" stroke="#f23434" stroke-width="0.55" opacity="0.8"/>
<rect x="448.4" y="247.27" width="3.3" height="3.3" fill="#f23434"/>
<rect x="459.65" y="231.54" width="3.3" height="3.3" fill="#f23434"/>
<rect x="470.9" y="223.47" width="3.3" height="3.3" fill="#f23434"/>
<path d="M483.8 220.43V224.13M482.3 220.43H485.3M482.3 224.13H485.3" stroke="#f23434" stroke-width="0.55" opacity="0.8"/>
<rect x="482.15" y="220.63" width="3.3" height="3.3" fill="#f23434"/>
<rect x="493.4" y="213.17" width="3.3" height="3.3" fill="#f23434"/>
<polyline points="416.3,274.66 417.63,274.6 418.97,274.54 420.3,274.47 421.64,274.4 422.97,274.33 424.31,274.25 425.64,274.16 426.98,274.07 428.31,273.98 429.65,273.88 430.98,273.77 432.32,273.66 433.65,273.54 434.98,273.41 436.32,273.27 437.65,273.13 438.99,272.98 440.32,272.82 441.66,272.65 442.99,272.47 444.33,272.27 445.66,272.07 447,271.85 448.33,271.63 449.67,271.38 451,271.13 452.34,270.86 453.67,270.57 455,270.27 456.34,269.95 457.67,269.61 459.01,269.25 460.34,268.87 461.68,268.46 463.01,268.04 464.35,267.59 465.68,267.12 467.02,266.61 468.35,266.09 469.69,265.53 471.02,264.94 472.36,264.32 473.69,263.67 475.03,262.98 476.36,262.25 477.69,261.49 479.03,260.68 480.36,259.84 481.7,258.95 483.03,258.01 484.37,257.03 485.7,256.01 487.04,254.93 488.37,253.8 489.71,252.62 491.04,251.38 492.38,250.09 493.71,248.73 495.05,247.33" fill="none" stroke="#4646ff" stroke-width="0.55" opacity="0.7"/>
<circle cx="416.3" cy="275.5" r="1.6" fill="#4646ff"/>
<circle cx="427.55" cy="273.96" r="1.6" fill="#4646ff"/>
<circle cx="438.8" cy="272.35" r="1.6" fill="#4646ff"/>
<circle cx="450.05" cy="270.5" r="1.6" fill="#4646ff"/>
<circle cx="461.3" cy="269.76" r="1.6" fill="#4646ff"/>
<path d="M472.55 261.56V264.03M471.05 261.56H474.05M471.05 264.03H474.05" stroke="#4646ff" stroke-width="0.55" opacity="0.8"/>
<circle cx="472.55" cy="262.79" r="1.6" fill="#4646ff"/>
<path d="M483.8 257.68V260.14M482.3 257.68H485.3M482.3 260.14H485.3" stroke="#4646ff" stroke-width="0.55" opacity="0.8"/>
<circle cx="483.8" cy="258.91" r="1.6" fill="#4646ff"/>
<path d="M495.05 245.59V248.06M493.55 245.59H496.55M493.55 248.06H496.55" stroke="#4646ff" stroke-width="0.55" opacity="0.8"/>
<circle cx="495.05" cy="246.82" r="1.6" fill="#4646ff"/>
<text x="530" y="205.8" class="pl">(H)</text>
<path d="M571.5 214.45V289.4H683.4" class="ax"/>
<path d="M569.2 289.4H571.5" class="ax"/>
<text x="568.3" y="291.3" class="tk" style="font-size:5.6px" text-anchor="end">-20</text>
<path d="M569.2 276.91H571.5" class="ax"/>
<text x="568.3" y="278.81" class="tk" style="font-size:5.6px" text-anchor="end">0</text>
<path d="M569.2 264.42H571.5" class="ax"/>
<text x="568.3" y="266.32" class="tk" style="font-size:5.6px" text-anchor="end">20</text>
<path d="M569.2 251.92H571.5" class="ax"/>
<text x="568.3" y="253.82" class="tk" style="font-size:5.6px" text-anchor="end">40</text>
<path d="M569.2 239.43H571.5" class="ax"/>
<text x="568.3" y="241.33" class="tk" style="font-size:5.6px" text-anchor="end">60</text>
<path d="M569.2 226.94H571.5" class="ax"/>
<text x="568.3" y="228.84" class="tk" style="font-size:5.6px" text-anchor="end">80</text>
<path d="M569.2 214.45H571.5" class="ax"/>
<text x="568.3" y="216.35" class="tk" style="font-size:5.6px" text-anchor="end">100</text>
<path d="M571.5 289.4V292.4" class="ax"/>
<text x="571.5" y="299.4" class="tk" style="font-size:5.6px" text-anchor="middle">0</text>
<path d="M608.8 289.4V292.4" class="ax"/>
<text x="608.8" y="299.4" class="tk" style="font-size:5.6px" text-anchor="middle">1</text>
<path d="M646.1 289.4V292.4" class="ax"/>
<text x="646.1" y="299.4" class="tk" style="font-size:5.6px" text-anchor="middle">2</text>
<path d="M683.4 289.4V292.4" class="ax"/>
<text x="683.4" y="299.4" class="tk" style="font-size:5.6px" text-anchor="middle">3</text>
<text transform="translate(555.36 251.3) rotate(-90)" class="yl" style="font-size:5.72px;letter-spacing:0.38px" text-anchor="middle">Inhibition (%)</text>
<text x="627.45" y="307.7" class="xl" text-anchor="middle">Log concentration(µg/mL)</text>
<path d="M578.2 209.2H585.8" stroke="#4646ff" stroke-width="0.5" opacity="0.6"/>
<circle cx="582" cy="209.2" r="1.55" fill="#4646ff"/>
<text x="589.9" y="211.01" class="lg" style="font-size:6.24px">Vancomycin</text>
<path d="M578.2 219.2H585.8" stroke="#f23434" stroke-width="0.5" opacity="0.6"/>
<rect x="580.4" y="217.6" width="3.2" height="3.2" fill="#f23434"/>
<text x="589.9" y="221.01" class="lg" style="font-size:6.24px">Vancomycin + ACV</text>
<polyline points="593.96,275.48 595.29,275.25 596.62,275.01 597.95,274.75 599.29,274.48 600.62,274.19 601.95,273.89 603.28,273.57 604.61,273.23 605.95,272.88 607.28,272.51 608.61,272.12 609.94,271.71 611.28,271.29 612.61,270.84 613.94,270.38 615.27,269.89 616.6,269.39 617.94,268.86 619.27,268.32 620.6,267.76 621.93,267.18 623.26,266.58 624.6,265.96 625.93,265.33 627.26,264.68 628.59,264.01 629.93,263.33 631.26,262.63 632.59,261.93 633.92,261.21 635.25,260.48 636.59,259.74 637.92,259 639.25,258.25 640.58,257.5 641.92,256.75 643.25,255.99 644.58,255.24 645.91,254.5 647.24,253.76 648.58,253.02 649.91,252.29 651.24,251.58 652.57,250.87 653.91,250.18 655.24,249.5 656.57,248.84 657.9,248.19 659.23,247.56 660.57,246.94 661.9,246.35 663.23,245.77 664.56,245.21 665.89,244.67 667.23,244.15 668.56,243.65 669.89,243.17 671.22,242.71 672.56,242.27" fill="none" stroke="#f23434" stroke-width="0.55" opacity="0.7"/>
<rect x="592.31" y="273.76" width="3.3" height="3.3" fill="#f23434"/>
<path d="M605.19 270.35V276.6M603.69 270.35H606.69M603.69 276.6H606.69" stroke="#f23434" stroke-width="0.55" opacity="0.8"/>
<rect x="603.54" y="271.82" width="3.3" height="3.3" fill="#f23434"/>
<rect x="614.76" y="267.45" width="3.3" height="3.3" fill="#f23434"/>
<rect x="625.99" y="262.14" width="3.3" height="3.3" fill="#f23434"/>
<path d="M638.87 257.8V262.79M637.37 257.8H640.37M637.37 262.79H640.37" stroke="#f23434" stroke-width="0.55" opacity="0.8"/>
<rect x="637.22" y="258.64" width="3.3" height="3.3" fill="#f23434"/>
<rect x="648.45" y="248.78" width="3.3" height="3.3" fill="#f23434"/>
<rect x="659.68" y="245.78" width="3.3" height="3.3" fill="#f23434"/>
<path d="M672.56 240.25V243.99M671.06 240.25H674.06M671.06 243.99H674.06" stroke="#f23434" stroke-width="0.55" opacity="0.8"/>
<rect x="670.91" y="240.47" width="3.3" height="3.3" fill="#f23434"/>
<polyline points="593.96,276.58 595.29,276.58 596.62,276.57 597.95,276.57 599.29,276.56 600.62,276.56 601.95,276.55 603.28,276.54 604.61,276.54 605.95,276.53 607.28,276.52 608.61,276.51 609.94,276.5 611.28,276.49 612.61,276.48 613.94,276.47 615.27,276.46 616.6,276.45 617.94,276.43 619.27,276.42 620.6,276.4 621.93,276.39 623.26,276.37 624.6,276.35 625.93,276.33 627.26,276.31 628.59,276.29 629.93,276.27 631.26,276.24 632.59,276.22 633.92,276.19 635.25,276.16 636.59,276.13 637.92,276.1 639.25,276.06 640.58,276.02 641.92,275.98 643.25,275.94 644.58,275.9 645.91,275.85 647.24,275.8 648.58,275.75 649.91,275.69 651.24,275.63 652.57,275.57 653.91,275.5 655.24,275.43 656.57,275.35 657.9,275.27 659.23,275.19 660.57,275.1 661.9,275 663.23,274.9 664.56,274.79 665.89,274.67 667.23,274.55 668.56,274.42 669.89,274.28 671.22,274.14 672.56,273.98" fill="none" stroke="#4646ff" stroke-width="0.55" opacity="0.7"/>
<circle cx="593.96" cy="276.53" r="1.6" fill="#4646ff"/>
<circle cx="605.19" cy="276.53" r="1.6" fill="#4646ff"/>
<circle cx="616.41" cy="276.53" r="1.6" fill="#4646ff"/>
<circle cx="627.64" cy="276.28" r="1.6" fill="#4646ff"/>
<circle cx="638.87" cy="276.1" r="1.6" fill="#4646ff"/>
<circle cx="650.1" cy="275.6" r="1.6" fill="#4646ff"/>
<circle cx="661.33" cy="275.1" r="1.6" fill="#4646ff"/>
<circle cx="672.56" cy="273.97" r="1.6" fill="#4646ff"/>
</g>
</svg>
</body></html>
